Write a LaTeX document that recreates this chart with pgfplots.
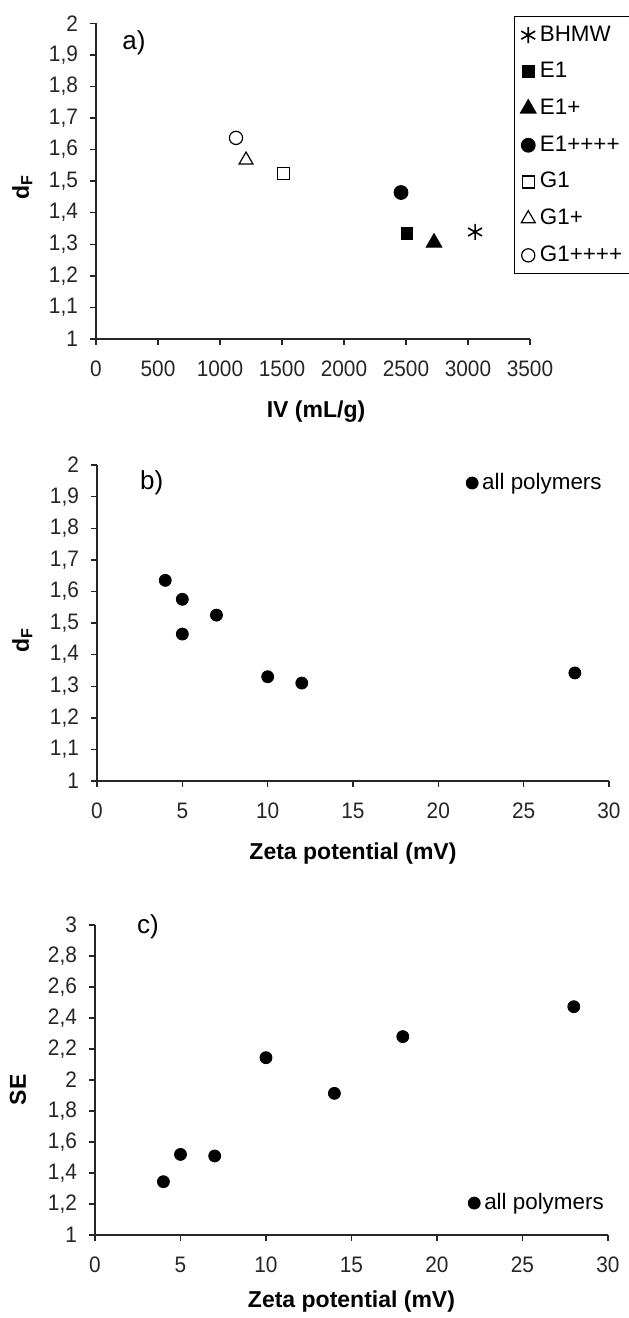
\documentclass[border=0pt]{standalone}
\usepackage{fontspec}
\setmainfont{Liberation Sans}
\newfontfamily\ticksf[FakeStretch=0.93]{Liberation Sans}
\usepackage{pgfplots}
\pgfplotsset{compat=1.18}

\pgfplotsset{
  panel/.style={
    scale only axis,
    clip=false,
    axis x line*=bottom,
    axis y line*=left,
    axis line style={-, black!85, line width=0.7pt},
    tick style={black!85, line width=0.7pt},
    tick align=outside,
    major tick length=3pt,
    tick label style={font=\ticksf\fontsize{11.2}{13}\selectfont, text=black!85},
    xticklabel style={yshift=-4.5pt},
    yticklabel style={xshift=-2.5pt},
    /pgf/number format/assume math mode=true,
    /pgf/number format/use comma,
    /pgf/number format/1000 sep={},
    label style={font=\bfseries\fontsize{11.5}{13}\selectfont},
    legend cell align=left,
    legend image code/.code={\draw[mark repeat=2,mark phase=2,#1] plot coordinates {(0pt,0pt) (3pt,0pt) (6pt,0pt)};},
  },
  onelegend/.style={
    legend style={draw=none, fill=none, font=\fontsize{11.2}{13}\selectfont,
      inner xsep=3pt, inner ysep=2pt,
      nodes={inner sep=2pt, text height=8pt, text depth=2pt, anchor=west}},
  },
}

\begin{document}
\begin{tikzpicture}
\path[use as bounding box] (0,0) rectangle (314pt,-659pt);

% a) dF vs IV
\begin{axis}[panel,
  at={(48pt,-169.5pt)}, anchor=south west,
  width=217pt, height=157.85pt,
  xmin=0, xmax=3500, ymin=1, ymax=2,
  xtick={0,500,1000,1500,2000,2500,3000,3500},
  ytick={1,1.1,1.2,1.3,1.4,1.5,1.6,1.7,1.8,1.9,2},
  xlabel={IV (mL/g)}, ylabel={d\textsubscript{F}},
  xlabel style={at={(axis description cs:0.507,-0.231)}, anchor=center},
  ylabel style={at={(axis description cs:-0.17,0.48)}, anchor=center},
  legend style={at={(0.963,1.023)}, anchor=north west,
    draw=black, line width=0.7pt, fill=white,
    font=\fontsize{11.2}{13}\selectfont,
    inner xsep=3pt, inner ysep=2.2pt, row sep=4.35pt,
    nodes={inner sep=2pt, text height=8pt, text depth=2pt, anchor=west}},
]
\addplot[only marks, black, mark=asterisk, mark size=4pt, line width=0.8pt] coordinates {(3057,1.339)};
\addlegendentry{BHMW}
\addplot[only marks, black, mark=square*, mark size=2.9pt, line width=0.6pt] coordinates {(2508,1.333)};
\addlegendentry{E1}
\addplot[only marks, black, mark=triangle*, mark size=4.4pt, line width=0.6pt] coordinates {(2726,1.305)};
\addlegendentry{E1+}
\addplot[only marks, black, mark=*, mark size=3.4pt, line width=0.6pt] coordinates {(2460,1.464)};
\addlegendentry{E1++++}
\addplot[only marks, black, mark=square, mark size=3pt, line width=0.6pt] coordinates {(1510,1.523)};
\addlegendentry{G1}
\addplot[only marks, black, mark=triangle, mark size=4pt, line width=0.6pt] coordinates {(1210,1.567)};
\addlegendentry{G1+}
\addplot[only marks, black, mark=o, mark size=3.3pt, line width=0.6pt] coordinates {(1129,1.637)};
\addlegendentry{G1++++}
\node[font=\fontsize{13}{15}\selectfont] at (rel axis cs:0.0876,0.9376) {a)};
\end{axis}

% b) dF vs zeta potential
\begin{axis}[panel, onelegend,
  at={(48.5pt,-390.5pt)}, anchor=south west,
  width=256pt, height=158pt,
  xmin=0, xmax=30, ymin=1, ymax=2,
  xtick={0,5,10,15,20,25,30},
  ytick={1,1.1,1.2,1.3,1.4,1.5,1.6,1.7,1.8,1.9,2},
  xlabel={Zeta potential (mV)}, ylabel={d\textsubscript{F}},
  xlabel style={at={(axis description cs:0.5,-0.228)}, anchor=center},
  ylabel style={at={(axis description cs:-0.146,0.446)}, anchor=center},
  legend style={at={(1.006,0.943)}, anchor=east},
]
\addplot[only marks, black, mark=*, mark size=3pt] coordinates {
(4,1.635) (5,1.575) (5,1.465) (7,1.525) (10,1.330) (12,1.310) (28,1.342)};
\addlegendentry{all polymers}
\node[font=\fontsize{13}{15}\selectfont] at (rel axis cs:0.107,0.943) {b)};
\end{axis}

% c) SE vs zeta potential
\begin{axis}[panel, onelegend,
  at={(47.5pt,-617.5pt)}, anchor=south west,
  width=256.5pt, height=155pt,
  xmin=0, xmax=30, ymin=1, ymax=3,
  xtick={0,5,10,15,20,25,30},
  ytick={1,1.2,1.4,1.6,1.8,2,2.2,2.4,2.6,2.8,3},
  xlabel={Zeta potential (mV)}, ylabel={SE},
  xlabel style={at={(axis description cs:0.5,-0.216)}, anchor=center},
  ylabel style={at={(axis description cs:-0.15,0.468)}, anchor=center},
  legend style={at={(1.012,0.103)}, anchor=east},
]
\addplot[only marks, black, mark=*, mark size=3pt] coordinates {
(4,1.344) (5,1.520) (7,1.510) (10,2.144) (14,1.914) (18,2.280) (28,2.473)};
\addlegendentry{all polymers}
\node[font=\fontsize{13}{15}\selectfont] at (rel axis cs:0.103,0.994) {c)};
\end{axis}
\end{tikzpicture}
\end{document}
